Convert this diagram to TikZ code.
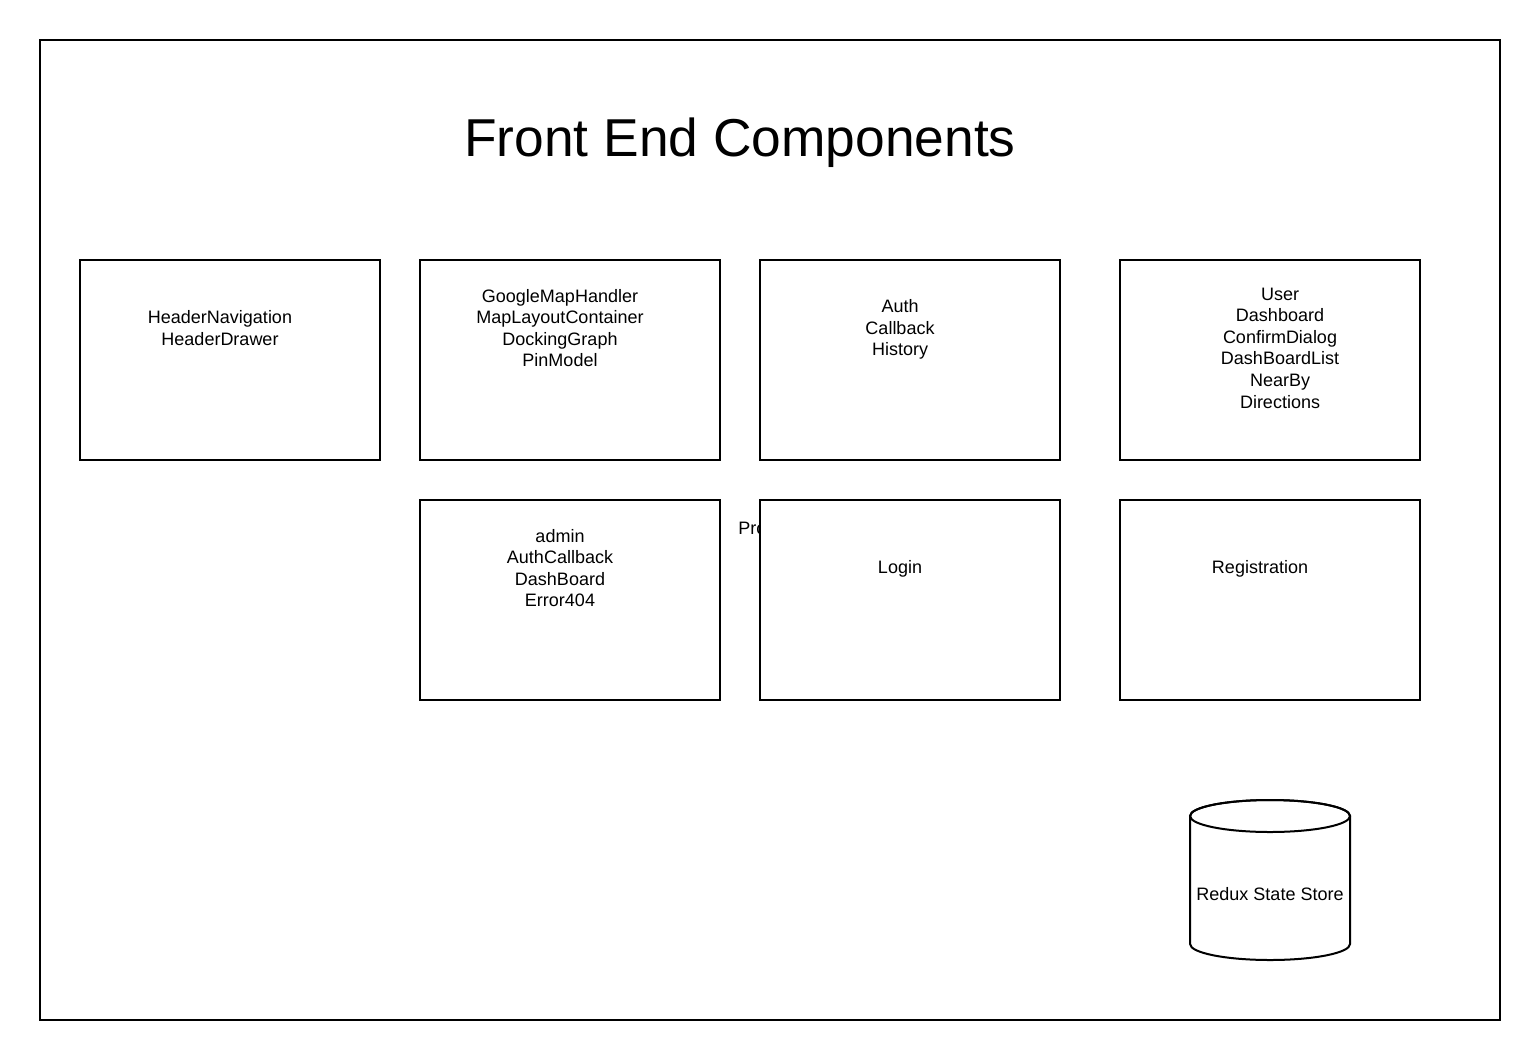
\documentclass[tikz,border=0pt]{standalone}
\usepackage{fontspec}
\setmainfont{Liberation Sans}
\begin{document}
\begin{tikzpicture}[
  x=0.75pt, y=-0.75pt,
  every node/.style={font=\fontsize{13.5}{16.2}\selectfont, align=center, inner sep=0pt},
  frame/.style={draw, line width=1.5pt, minimum width=1095pt, minimum height=735pt},
  compbox/.style={draw, line width=1.5pt, fill=white, minimum width=225pt, minimum height=150pt},
  titletext/.style={font=\fontsize{40}{48}\selectfont}
]
\useasboundingbox (0,0) rectangle (1540,1060);

\node[frame] (outer) at (770,530) {};
\node[titletext] (title) at (740,143) {Front End Components};

% hidden label behind the Login box
\node[anchor=west] (pro) at (738,528) {Pro};

\node[compbox] (header) at (230,360) {};
\node[compbox] (map) at (570,360) {};
\node[compbox] (auth) at (910,360) {};
\node[compbox] (user) at (1270,360) {};
\node[compbox] (admin) at (570,600) {};
\node[compbox] (login) at (910,600) {};
\node[compbox] (reg) at (1270,600) {};

\node (headertxt) at (220,328) {HeaderNavigation\\HeaderDrawer};
\node (maptxt) at (560,328) {GoogleMapHandler\\MapLayoutContainer\\DockingGraph\\PinModel};
\node (authtxt) at (900,329.5) {Auth\\Callback\\History};
\node (usertxt) at (1280,348) {User\\Dashboard\\ConfirmDialog\\DashBoardList\\NearBy\\Directions};
\node (admintxt) at (560,568) {admin\\AuthCallback\\DashBoard\\Error404};
\node (logintxt) at (900,569) {Login};
\node (regtxt) at (1260,569) {Registration};

% redux store cylinder
\draw[line width=1.5pt, fill=white] (1190,816) -- (1190,944)
  arc[start angle=180, end angle=0, x radius=80, y radius=16] -- (1350,816)
  arc[start angle=0, end angle=-180, x radius=80, y radius=16] -- cycle;
\draw[line width=1.5pt] (1270,816) ellipse[x radius=80, y radius=16];
\node (store) at (1270,894) {Redux State Store};

\end{tikzpicture}
\end{document}
